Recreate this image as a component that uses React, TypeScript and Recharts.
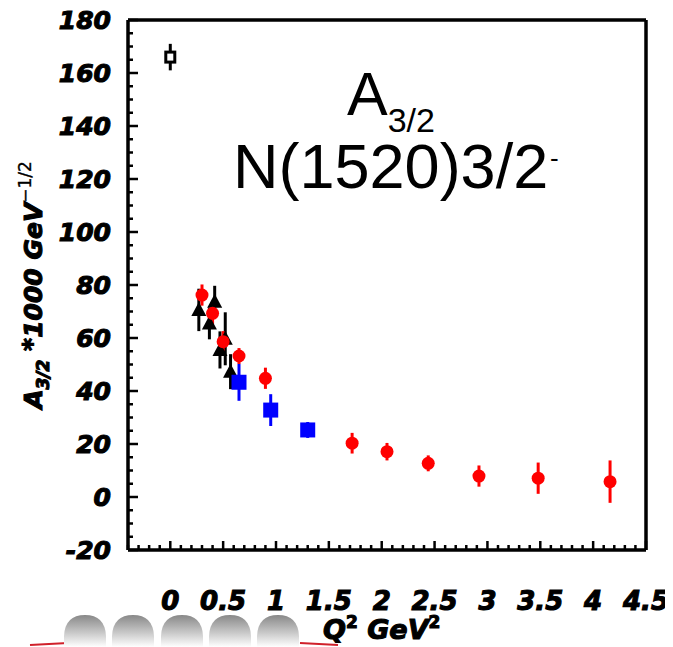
import React from "react";
import { ScatterChart, Scatter, XAxis, YAxis, ErrorBar, ReferenceLine, Customized } from "recharts";

// Q^2 (GeV^2), A_3/2 (10^-3 GeV^-1/2), error
const photonQ2 = [0];
const photonA = [166];
const photonErr = [5];

const triangleQ2 = [0.27, 0.37, 0.42, 0.47, 0.52, 0.57];
const triangleA = [70.6, 65.5, 73.7, 55.5, 59.7, 47.3];
const triangleErr = [8, 6, 6, 7, 10, 6.6];

const blueQ2 = [0.65, 0.95, 1.3];
const blueA = [43.3, 32.8, 25.3];
const blueErr = [7, 6, 3];

const redQ2 = [0.3, 0.4, 0.5, 0.65, 0.9, 1.72, 2.05, 2.44, 2.92, 3.48, 4.16];
const redA = [76.2, 69.3, 58.6, 53.2, 44.8, 20.3, 17.1, 12.7, 7.9, 7.1, 5.8];
const redErr = [4, 4, 4, 3, 4, 3.9, 3.3, 3, 4, 5.9, 8];

const xLabels = [0, 0.5, 1, 1.5, 2, 2.5, 3, 3.5, 4, 4.5];
const yLabels = [-20, 0, 20, 40, 60, 80, 100, 120, 140, 160, 180];

// minor ticks every 0.1 in x and every 5 in y
const xTicks: number[] = [];
for (let i = -4; i <= 45; i++) xTicks.push(i / 10);
const yTicks: number[] = [];
for (let v = -20; v <= 180; v += 5) yTicks.push(v);

const toRows = (q2: number[], a: number[], err: number[]) =>
  q2.map((q, i) => ({ q2: q, a: a[i], err: err[i] }));

const axisFont = {
  fontFamily: "'DejaVu Sans', sans-serif",
  fontWeight: "bold" as const,
  fontStyle: "italic" as const,
  fill: "#000",
  stroke: "#000",
  strokeWidth: 1.1,
};

const XTick = ({ x, y, payload }: any) => {
  const v = payload.value;
  const major = xLabels.some((m) => Math.abs(m - v) < 1e-6);
  return (
    <g>
      <line x1={x} x2={x} y1={y} y2={y - (major ? 9 : 5)} stroke="#000" strokeWidth={2.5} />
      {major && (
        <text x={x} y={y + 60} textAnchor="middle" fontSize={26} {...axisFont}>
          {Math.round(v * 10) / 10}
        </text>
      )}
    </g>
  );
};

const YTick = ({ x, y, payload }: any) => {
  const v = payload.value;
  const major = yLabels.includes(v);
  return (
    <g>
      <line x1={x} x2={x + (major ? 10 : 5)} y1={y} y2={y} stroke="#000" strokeWidth={2.5} />
      {major && (
        <text x={x - 17} y={y} dy="0.36em" textAnchor="end" fontSize={25} {...axisFont}>
          {v}
        </text>
      )}
    </g>
  );
};

const RedDot = (p: any) => <circle cx={p.cx} cy={p.cy} r={6.5} fill="#ff0000" />;
const BlueSquare = (p: any) => (
  <rect x={p.cx - 7.5} y={p.cy - 7.5} width={15} height={15} fill="#0000ff" />
);
const Triangle = (p: any) => (
  <polygon
    points={`${p.cx},${p.cy - 8} ${p.cx - 7.5},${p.cy + 6} ${p.cx + 7.5},${p.cy + 6}`}
    fill="#000"
  />
);
const OpenSquare = (p: any) => (
  <rect x={p.cx - 4.5} y={p.cy - 5} width={9} height={10} fill="#fff" stroke="#000" strokeWidth={3} />
);

const domeCenters = [77, 125, 174, 222, 270];

const Decorations = () => (
  <g>
    <defs>
      <linearGradient id="dome" x1="0" y1="0" x2="0" y2="1">
        <stop offset="0%" stopColor="#888888" />
        <stop offset="55%" stopColor="#c8c8c8" />
        <stop offset="100%" stopColor="#ffffff" />
      </linearGradient>
    </defs>
    <line x1={22} x2={60} y1={637} y2={635} stroke="#d0202a" strokeWidth={2} />
    <line x1={292} x2={330} y1={635} y2={637} stroke="#d0202a" strokeWidth={2} />
    {domeCenters.map((c) => (
      <path
        key={c}
        d={`M${c - 21},639 L${c - 21},628 Q${c - 20},607 ${c},607 Q${c + 20},607 ${c + 21},628 L${c + 21},639 Z`}
        fill="url(#dome)"
      />
    ))}
    <text x={339} y={107} fontSize={61} fontFamily="'Liberation Sans', Arial, sans-serif" fill="#000">
      A<tspan dy={17} fontSize={34}>3/2</tspan>
    </text>
    <text x={225} y={180} fontSize={63} fontFamily="'Liberation Sans', Arial, sans-serif" fill="#000">
      N(1520)3/2
    </text>
    <text x={542} y={159} fontSize={26} fontFamily="'Liberation Sans', Arial, sans-serif" fill="#000">
      -
    </text>
    <text transform="translate(34,277) rotate(-90)" textAnchor="middle" fontSize={25} {...axisFont}>
      A<tspan dy={7} fontSize={17}>3/2</tspan>
      <tspan dy={-9}> *</tspan>
      <tspan dy={2}>1000 GeV</tspan>
      <tspan dy={-11} fontSize={17} fontWeight="normal" fontStyle="normal" strokeWidth={0.3}>
        −1/2
      </tspan>
    </text>
    <text x={315} y={631} fontSize={27} {...axisFont}>
      Q<tspan dy={-11} fontSize={17} fontStyle="normal">2</tspan>
      <tspan dy={11}> GeV</tspan>
      <tspan dy={-11} fontSize={17} fontStyle="normal">2</tspan>
    </text>
  </g>
);

export default function App() {
  return (
    <div style={{ width: 660, height: 639 }}>
      <ScatterChart width={660} height={639} margin={{ top: 12, right: 22, left: 10, bottom: 17 }}>
        <XAxis
          type="number"
          dataKey="q2"
          domain={[-0.4, 4.5]}
          ticks={xTicks}
          interval={0}
          tickSize={0}
          tickMargin={0}
          tickLine={false}
          tick={(p: any) => <XTick {...p} />}
          axisLine={{ stroke: "#000", strokeWidth: 3.5 }}
          height={80}
          allowDataOverflow
        />
        <YAxis
          type="number"
          dataKey="a"
          domain={[-20, 180]}
          ticks={yTicks}
          interval={0}
          tickSize={0}
          tickMargin={0}
          tickLine={false}
          tick={(p: any) => <YTick {...p} />}
          axisLine={{ stroke: "#000", strokeWidth: 3.5 }}
          width={110}
          allowDataOverflow
        />
        <ReferenceLine y={180} stroke="#000" strokeWidth={3.5} />
        <ReferenceLine x={4.5} stroke="#000" strokeWidth={3.5} />
        <Scatter data={toRows(photonQ2, photonA, photonErr)} shape={OpenSquare} isAnimationActive={false}>
          <ErrorBar dataKey="err" direction="y" width={0} stroke="#000" strokeWidth={3} isAnimationActive={false} />
        </Scatter>
        <Scatter data={toRows(triangleQ2, triangleA, triangleErr)} shape={Triangle} isAnimationActive={false}>
          <ErrorBar dataKey="err" direction="y" width={0} stroke="#000" strokeWidth={3} isAnimationActive={false} />
        </Scatter>
        <Scatter data={toRows(blueQ2, blueA, blueErr)} shape={BlueSquare} isAnimationActive={false}>
          <ErrorBar dataKey="err" direction="y" width={0} stroke="#0000ff" strokeWidth={3} isAnimationActive={false} />
        </Scatter>
        <Scatter data={toRows(redQ2, redA, redErr)} shape={RedDot} isAnimationActive={false}>
          <ErrorBar dataKey="err" direction="y" width={0} stroke="#ff0000" strokeWidth={3} isAnimationActive={false} />
        </Scatter>
        <Customized component={Decorations} />
      </ScatterChart>
    </div>
  );
}
